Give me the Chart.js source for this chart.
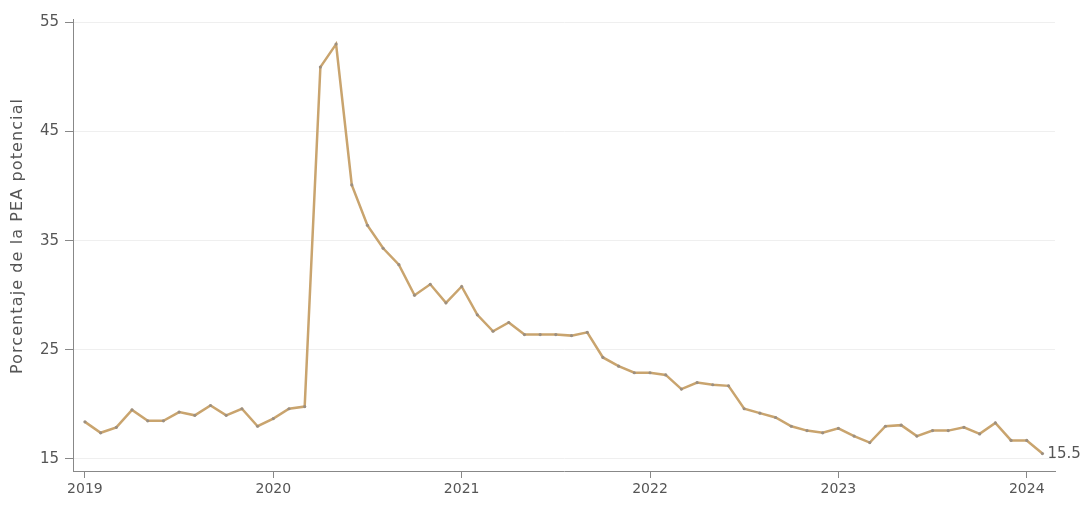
<!DOCTYPE html>
<html>
<head>
<meta charset="utf-8">
<script src="https://cdn.jsdelivr.net/npm/chart.js@4/dist/chart.umd.min.js"></script>
<style>
  html, body { margin: 0; padding: 0; background: #ffffff; }
  #wrap { width: 1091px; height: 508px; position: relative; }
</style>
</head>
<body>
<div id="wrap"><canvas id="c" width="1091" height="508"></canvas></div>
<script>
// Monthly series, Jan 2019 .. Feb 2024
const startYear = 2019;
const values = [
  // 2019
  18.4, 17.4, 17.9, 19.5, 18.5, 18.5, 19.3, 19.0, 19.9, 19.0, 19.6, 18.0,
  // 2020
  18.7, 19.6, 19.8, 50.9, 53.0, 40.1, 36.4, 34.3, 32.8, 30.0, 31.0, 29.3,
  // 2021
  30.8, 28.2, 26.7, 27.5, 26.4, 26.4, 26.4, 26.3, 26.6, 24.3, 23.5, 22.9,
  // 2022
  22.9, 22.7, 21.4, 22.0, 21.8, 21.7, 19.6, 19.2, 18.8, 18.0, 17.6, 17.4,
  // 2023
  17.8, 17.1, 16.5, 18.0, 18.1, 17.1, 17.6, 17.6, 17.9, 17.3, 18.3, 16.7,
  // 2024
  16.7, 15.5
];
const yTicks = [15, 25, 35, 45, 55];
const yearTicks = [2019, 2020, 2021, 2022, 2023, 2024];
const yTitle = 'Porcentaje de la PEA potencial';
const lastLabel = '15.5';

const FONT = '"DejaVu Sans", sans-serif';
const TEXT = '#555555';

const points = values.map((v, i) => ({ x: i, y: v }));

const endLabelPlugin = {
  id: 'endLabel',
  afterDatasetsDraw(chart) {
    const ctx = chart.ctx;
    const xs = chart.scales.x, ys = chart.scales.y;
    const i = values.length - 1;
    const px = xs.getPixelForValue(i);
    const py = ys.getPixelForValue(values[i]);
    ctx.save();
    ctx.font = '15px ' + FONT;
    ctx.fillStyle = TEXT;
    ctx.textAlign = 'left';
    ctx.textBaseline = 'middle';
    ctx.fillText(lastLabel, px + 5, py + 1);
    ctx.restore();
  }
};

const yTitlePlugin = {
  id: 'yTitle',
  afterDraw(chart) {
    const ctx = chart.ctx;
    const a = chart.chartArea;
    ctx.save();
    ctx.translate(18, (a.top + a.bottom) / 2 - 9);
    ctx.rotate(-Math.PI / 2);
    ctx.font = '16px ' + FONT;
    try { ctx.letterSpacing = '1.1px'; } catch (e) {}
    ctx.fillStyle = TEXT;
    ctx.textAlign = 'center';
    ctx.textBaseline = 'middle';
    ctx.fillText(yTitle, 0, 0);
    ctx.restore();
  }
};

new Chart(document.getElementById('c'), {
  type: 'line',
  data: {
    datasets: [{
      data: points,
      borderColor: '#c9a46e',
      borderWidth: 2.5,
      pointRadius: 1.6,
      pointBackgroundColor: '#9c8f80',
      pointBorderColor: '#9c8f80',
      pointBorderWidth: 0,
      tension: 0,
      fill: false
    }]
  },
  options: {
    responsive: false,
    animation: false,
    layout: { padding: { top: 19, right: 36, bottom: 0, left: 0 } },
    plugins: { legend: { display: false }, tooltip: { enabled: false } },
    scales: {
      x: {
        type: 'linear',
        min: -0.76,
        max: 61.8,
        afterBuildTicks(scale) {
          scale.ticks = yearTicks.map(y => ({ value: (y - startYear) * 12 }));
        },
        afterFit(scale) { scale.height = 37; },
        ticks: {
          autoSkip: false,
          maxRotation: 0,
          padding: 3,
          color: TEXT,
          font: { family: FONT, size: 14 },
          callback: v => String(startYear + Math.round(v / 12))
        },
        grid: {
          drawOnChartArea: false,
          drawTicks: true,
          tickLength: 7,
          tickColor: '#888888'
        },
        border: { display: true, color: '#888888', width: 1 }
      },
      y: {
        min: 13.9,
        max: 55.3,
        afterBuildTicks(scale) {
          scale.ticks = yTicks.map(v => ({ value: v }));
        },
        afterFit(scale) { scale.width = 73; },
        ticks: {
          padding: 6,
          color: TEXT,
          font: { family: FONT, size: 15 }
        },
        grid: {
          color: '#efefef',
          lineWidth: 1,
          drawTicks: true,
          tickLength: 8,
          tickColor: '#888888'
        },
        border: { display: true, color: '#888888', width: 1 },
        title: { display: false }
      }
    }
  },
  plugins: [endLabelPlugin, yTitlePlugin]
});
</script>
</body>
</html>
